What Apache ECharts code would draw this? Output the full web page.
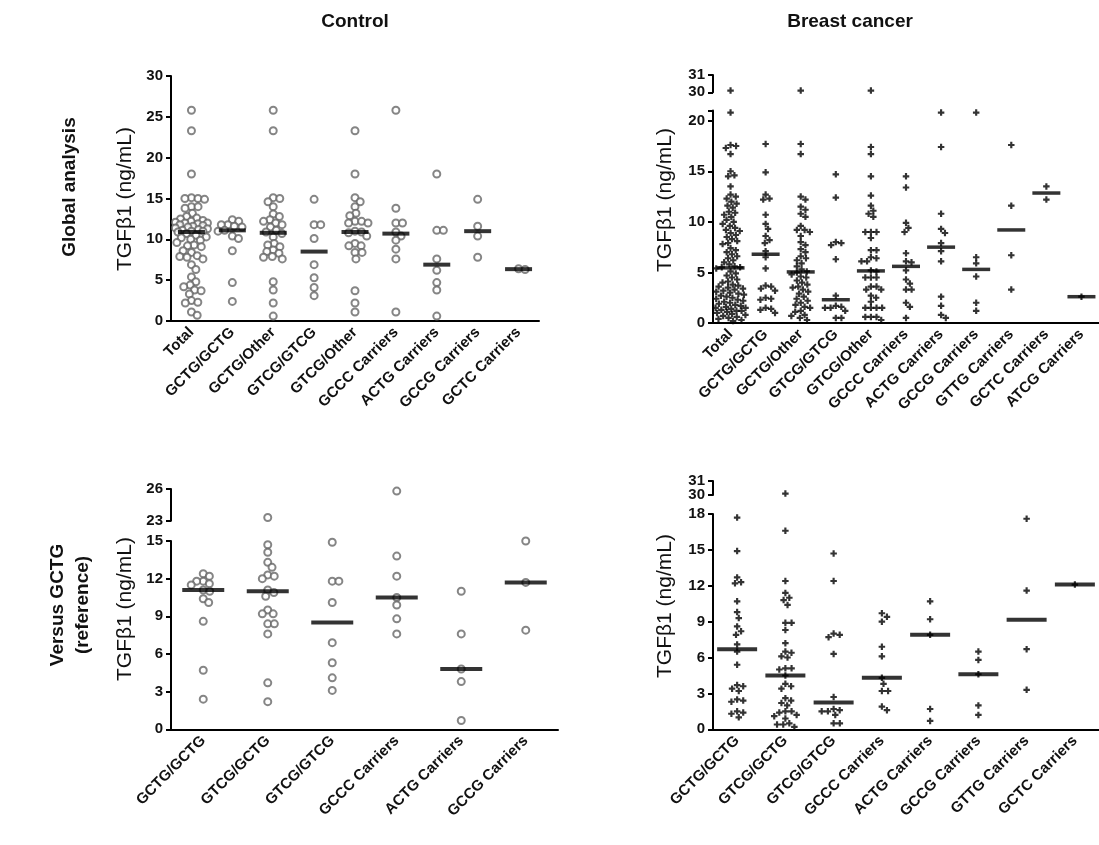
<!DOCTYPE html>
<html>
<head>
<meta charset="utf-8">
<script src="https://cdn.jsdelivr.net/npm/echarts@6/dist/echarts.min.js"></script>
<style>html,body{margin:0;background:#fff}#chart{width:1099px;height:845px}</style>
</head>
<body>
<div id="chart"></div>
<script>
// categories
const ctrlGlobalCats = ['Total', 'GCTG/GCTG', 'GCTG/Other', 'GTCG/GTCG', 'GTCG/Other', 'GCCC Carriers', 'ACTG Carriers', 'GCCG Carriers', 'GCTC Carriers']
const bcGlobalCats = ['Total', 'GCTG/GCTG', 'GCTG/Other', 'GTCG/GTCG', 'GTCG/Other', 'GCCC Carriers', 'ACTG Carriers', 'GCCG Carriers', 'GTTG Carriers', 'GCTC Carriers', 'ATCG Carriers']
const ctrlRefCats = ['GCTG/GCTG', 'GTCG/GCTG', 'GTCG/GTCG', 'GCCC Carriers', 'ACTG Carriers', 'GCCG Carriers']
const bcRefCats = ['GCTG/GCTG', 'GTCG/GCTG', 'GTCG/GTCG', 'GCCC Carriers', 'ACTG Carriers', 'GCCG Carriers', 'GTTG Carriers', 'GCTC Carriers']

// control, TGFb1 ng/mL
const ctrlTotal = [25.8, 23.3, 18.0, 15.1, 15.0, 15.0, 14.9, 14.0, 14.0, 13.8, 13.2, 12.8, 12.6, 12.5, 12.3, 12.2, 12.1, 12.0, 12.0, 11.9, 11.8, 11.7, 11.6, 11.5, 11.4, 11.3, 11.2, 11.1, 11.0, 11.0, 10.9, 10.7, 10.5, 10.3, 10.2, 10.0, 9.9, 9.6, 9.3, 9.2, 9.1, 8.6, 8.4, 8.0, 7.9, 7.8, 7.6, 6.9, 6.3, 5.4, 4.8, 4.4, 4.2, 3.8, 3.7, 3.3, 2.5, 2.3, 2.2, 1.1, 0.7]
const ctrlGctgGctg = [12.4, 12.2, 11.8, 11.8, 11.6, 11.5, 11.1, 11.0, 10.4, 10.1, 8.6, 4.7, 2.4]
const ctrlGctgOther = [25.8, 23.3, 15.1, 15.0, 14.6, 14.0, 13.1, 12.8, 12.4, 12.2, 12.0, 11.8, 11.5, 11.1, 10.9, 10.7, 10.3, 9.5, 9.3, 9.1, 8.7, 8.5, 8.3, 7.9, 7.8, 7.6, 4.8, 3.8, 2.2, 0.6]
const ctrlGtcgGtcg = [14.9, 11.8, 11.8, 10.1, 6.9, 5.3, 4.1, 3.1]
const ctrlGtcgOther = [23.3, 18.0, 15.1, 14.6, 14.0, 13.2, 12.9, 12.2, 12.2, 12.0, 12.0, 11.0, 10.9, 10.8, 10.4, 9.5, 9.2, 9.2, 8.4, 8.4, 7.6, 3.7, 2.2, 1.1]
const ctrlGccc = [25.8, 13.8, 12.0, 12.0, 10.9, 10.4, 9.9, 8.8, 7.6, 1.1]
const ctrlActg = [18.0, 11.1, 11.1, 7.6, 6.2, 4.7, 3.8, 0.6]
const ctrlGccg = [14.9, 11.6, 10.4, 7.8]
const ctrlGctc = [6.4, 6.3]
const ctrlGlobalMedians = [10.9, 11.1, 10.8, 8.5, 10.9, 10.7, 6.9, 11.0, 6.35]

const ctrlGtcgGctg = [23.3, 15.1, 14.7, 14.1, 13.3, 12.9, 12.3, 12.2, 12.0, 11.1, 10.9, 10.6, 9.5, 9.2, 9.2, 8.4, 8.4, 7.6, 3.7, 2.2]
const ctrlRefGccc = [25.8, 13.8, 12.2, 10.5, 9.9, 8.8, 7.6]
const ctrlRefActg = [11.0, 7.6, 4.8, 3.8, 0.7]
const ctrlRefGccg = [15.0, 11.7, 7.9]
const ctrlRefMedians = [11.1, 11.0, 8.5, 10.5, 4.8, 11.7]

// breast cancer
const bcTotal = [30.1, 20.8, 17.6, 17.5, 17.3, 16.7, 15.0, 14.6, 14.5, 13.5, 12.7, 12.5, 12.3, 12.0, 11.8, 11.6, 11.4, 11.0, 10.9, 10.7, 10.5, 10.2, 10.0, 9.8, 9.6, 9.4, 9.2, 9.1, 8.9, 8.7, 8.5, 8.3, 8.1, 7.9, 7.8, 7.4, 7.2, 7.0, 6.8, 6.6, 6.4, 6.2, 6.0, 5.8, 5.6, 5.5, 5.5, 5.4, 5.1, 4.9, 4.7, 4.5, 4.3, 4.1, 4.0, 3.8, 3.7, 3.6, 3.5, 3.4, 3.3, 3.2, 3.1, 3.0, 2.9, 2.8, 2.7, 2.6, 2.5, 2.4, 2.3, 2.2, 2.1, 2.0, 1.9, 1.8, 1.7, 1.6, 1.5, 1.5, 1.4, 1.3, 1.2, 1.2, 1.1, 1.0, 0.9, 0.8, 0.7, 0.6, 0.5, 0.4, 0.3, 0.2]
const bcGctgGctg = [17.7, 14.9, 12.7, 12.3, 12.2, 10.7, 9.8, 9.3, 8.6, 8.2, 7.9, 7.1, 6.5, 5.4, 3.7, 3.6, 3.4, 3.2, 2.5, 2.4, 2.3, 1.5, 1.4, 1.3, 1.0]
const bcGctgOther = [30.1, 17.7, 16.7, 12.5, 12.2, 11.5, 11.2, 10.8, 10.5, 9.6, 9.2, 9.2, 9.0, 8.6, 8.0, 7.7, 7.3, 7.0, 6.6, 6.4, 6.2, 5.9, 5.6, 5.3, 5.1, 5.0, 4.8, 4.6, 4.5, 4.2, 4.0, 3.8, 3.6, 3.5, 3.3, 3.1, 2.9, 2.6, 2.4, 2.2, 2.0, 1.8, 1.6, 1.5, 1.2, 1.1, 0.8, 0.7, 0.5, 0.3]
const bcGtcgGtcg = [14.7, 12.4, 8.0, 7.9, 7.7, 6.3, 2.7, 1.7, 1.6, 1.5, 1.5, 1.2, 0.5, 0.5]
const bcGtcgOther = [30.1, 17.4, 16.7, 14.5, 12.6, 11.6, 11.1, 10.8, 10.5, 9.0, 9.0, 9.0, 8.4, 7.2, 7.2, 6.5, 6.4, 6.1, 6.1, 5.2, 5.1, 4.5, 4.5, 4.5, 3.6, 3.6, 3.3, 3.3, 2.7, 2.5, 2.1, 1.5, 1.5, 1.5, 1.5, 0.6, 0.6, 0.6, 0.3]
const bcGccc = [14.5, 13.4, 9.9, 9.4, 9.0, 6.9, 6.1, 6.0, 5.2, 4.3, 3.9, 3.3, 3.3, 2.0, 1.6, 0.5]
const bcActg = [20.8, 17.4, 10.8, 9.3, 8.9, 7.9, 7.1, 6.1, 2.6, 1.7, 0.8, 0.5]
const bcGccg = [20.8, 6.5, 5.9, 4.6, 2.0, 1.2]
const bcGttg = [17.6, 11.6, 6.7, 3.3]
const bcGctc = [13.5, 12.2]
const bcAtcg = [2.6]
const bcGlobalMedians = [5.45, 6.8, 5.05, 2.3, 5.15, 5.6, 7.5, 5.3, 9.2, 12.85, 2.6]

const bcGtcgGctg = [30.1, 16.6, 12.4, 11.4, 11.0, 10.8, 10.4, 8.9, 8.9, 8.3, 7.2, 6.5, 6.4, 6.1, 6.0, 5.1, 5.1, 5.0, 4.5, 3.8, 3.6, 3.4, 2.6, 2.4, 2.2, 2.0, 1.5, 1.5, 1.4, 1.2, 1.1, 0.9, 0.5, 0.4, 0.4, 0.2]
const bcRefGccc = [9.7, 9.4, 9.0, 6.9, 6.1, 4.3, 3.8, 3.2, 3.2, 1.9, 1.6]
const bcRefActg = [10.7, 9.2, 7.9, 1.7, 0.7]
const bcRefGccg = [6.5, 5.8, 4.6, 2.0, 1.2]
const bcRefGctc = [12.1]
const bcRefMedians = [6.7, 4.5, 2.25, 4.3, 7.9, 4.6, 9.15, 12.1]

const FONT = '"Liberation Sans", Arial, sans-serif'
const ctrlMark = { symbol: 'circle', symbolSize: 7, itemStyle: { color: '#fff', borderColor: '#666', borderWidth: 2 } }
const bcMark = { symbol: 'path://M2,0H4V2H6V4H4V6H2V4H0V2H2Z', symbolSize: 6.5, itemStyle: { color: '#000' } }

// panels: lower segment + optional upper segment (broken axis)
const panels = [
  {
    cats: ctrlGlobalCats, medians: ctrlGlobalMedians, mark: ctrlMark, gap: 6.6, spread: 16, bar: [27, 4],
    groups: [ctrlTotal, ctrlGctgGctg, ctrlGctgOther, ctrlGtcgGtcg, ctrlGtcgOther, ctrlGccc, ctrlActg, ctrlGccg, ctrlGctc],
    left: 171, width: 368, nameX: 125, nameY: 199,
    lower: { top: 76, height: 245, min: 0, max: 30, interval: 5 },
  },
  {
    cats: bcGlobalCats, medians: bcGlobalMedians, mark: bcMark, gap: 5.6, spread: 15, bar: [28, 3.5],
    groups: [bcTotal, bcGctgGctg, bcGctgOther, bcGtcgGtcg, bcGtcgOther, bcGccc, bcActg, bcGccg, bcGttg, bcGctc, bcAtcg],
    left: 713, width: 386, nameX: 665, nameY: 200,
    lower: { top: 110.6, height: 212.4, min: 0, max: 21, interval: 5 },
    upper: { top: 75, height: 17.3, min: 30, max: 31, interval: 1 },
  },
  {
    cats: ctrlRefCats, medians: ctrlRefMedians, mark: ctrlMark, gap: 6.6, spread: 22, bar: [42, 4],
    groups: [ctrlGctgGctg, ctrlGtcgGctg, ctrlGtcgGtcg, ctrlRefGccc, ctrlRefActg, ctrlRefGccg],
    left: 171, width: 387, nameX: 125, nameY: 609,
    lower: { top: 541, height: 188.3, min: 0, max: 15, interval: 3 },
    upper: { top: 489, height: 31.7, min: 23, max: 26, interval: 3 },
  },
  {
    cats: bcRefCats, medians: bcRefMedians, mark: bcMark, gap: 6.2, spread: 20, bar: [40, 4],
    groups: [bcGctgGctg, bcGtcgGctg, bcGtcgGtcg, bcRefGccc, bcRefActg, bcRefGccg, bcGttg, bcRefGctc],
    left: 713, width: 386, nameX: 665, nameY: 606,
    lower: { top: 514, height: 215.3, min: 0, max: 18, interval: 3 },
    upper: { top: 481, height: 14, min: 30, max: 31, interval: 1 },
  },
]

// simple beeswarm: pixel x offsets so the dots don't overlap (within a max spread)
function swarm(values, pxPerUnit, d, maxOff) {
  const order = values.map((v, i) => i).sort((a, b) => values[b] - values[a])
  const placed = []
  const out = []
  order.forEach((i) => {
    const y = values[i] * pxPerUnit
    const near = placed.filter((p) => Math.abs(p.y - y) < d)
    const cands = [0]
    near.forEach((p) => {
      const w = Math.sqrt(d * d - (p.y - y) * (p.y - y))
      cands.push(p.x + w, p.x - w)
    })
    cands.sort((a, b) => Math.abs(a) - Math.abs(b))
    let x = cands.find((c) => Math.abs(c) <= maxOff && near.every((p) => (p.x - c) ** 2 + (p.y - y) ** 2 >= d * d - 0.01))
    if (x === undefined) {
      // no free slot: take the least crowded spot
      let best = -1
      for (let c = -maxOff; c <= maxOff; c += 0.5) {
        const m = Math.min(...near.map((p) => (p.x - c) ** 2 + (p.y - y) ** 2))
        if (m > best) { best = m; x = c }
      }
    }
    placed.push({ x, y })
    out[i] = x
  })
  return out
}

const axisLineStyle = { color: '#000', width: 2 }
const labelStyle = { fontSize: 15, fontWeight: 'bold', color: '#111', fontFamily: FONT }
const grid = []
const xAxis = []
const yAxis = []
const series = []

panels.forEach((p) => {
  const segs = p.upper ? [p.lower, p.upper] : [p.lower]
  segs.forEach((seg, si) => {
    const gi = grid.length
    const isLower = si === 0
    grid.push({ left: p.left, top: seg.top, width: p.width, height: seg.height, outerBoundsMode: 'none' })
    xAxis.push({
      type: 'category',
      gridIndex: gi,
      data: p.cats,
      show: isLower,
      boundaryGap: true,
      axisLine: { lineStyle: axisLineStyle },
      axisTick: { alignWithLabel: true, length: 5, lineStyle: axisLineStyle },
      axisLabel: Object.assign({ rotate: 45, interval: 0, margin: 9 }, labelStyle),
    })
    // label values: multiples of interval only (no label on the break cap)
    const labelVals = []
    for (let v = seg.min; v <= seg.max + 1e-9; v += seg.interval) labelVals.push(+v.toFixed(6))
    const yi = yAxis.length
    yAxis.push({
      type: 'value',
      gridIndex: gi,
      position: 'left',
      min: seg.min,
      max: seg.max,
      interval: seg.interval,
      splitLine: { show: false },
      axisLine: { show: true, lineStyle: axisLineStyle },
      axisTick: { show: true, length: 5, lineStyle: axisLineStyle },
      axisLabel: Object.assign({ margin: 8, customValues: isLower ? labelVals : [seg.min] }, labelStyle),
    })
    if (!isLower) {
      // top label of the short upper segment on its own axis so it is not dropped as overlapping
      yAxis.push({
        type: 'value',
        gridIndex: gi,
        position: 'left',
        offset: 0,
        min: seg.min,
        max: seg.max,
        splitLine: { show: false },
        axisLine: { show: false },
        axisTick: { show: false },
        axisLabel: Object.assign({ margin: 8, customValues: [seg.max] }, labelStyle),
      })
    }
    const pxPerUnit = seg.height / (seg.max - seg.min)
    const data = []
    p.groups.forEach((vals, ci) => {
      const inSeg = vals.filter((v) => (isLower ? v <= seg.max : v >= seg.min))
      const offs = swarm(inSeg, pxPerUnit, p.gap, p.spread)
      inSeg.forEach((v, j) => data.push({ value: [ci, v], symbolOffset: [offs[j], 0] }))
    })
    series.push({
      type: 'scatter',
      xAxisIndex: gi,
      yAxisIndex: yi,
      data,
      symbol: p.mark.symbol,
      symbolSize: p.mark.symbolSize,
      itemStyle: p.mark.itemStyle,
      z: 2,
    })
    if (isLower) {
      // median lines
      series.push({
        type: 'scatter',
        xAxisIndex: gi,
        yAxisIndex: yi,
        data: p.medians.map((m, ci) => [ci, m]),
        symbol: 'rect',
        symbolSize: p.bar,
        itemStyle: { color: '#000' },
        z: 5,
      })
    }
  })
})

const txt = (text, x, y, size, weight, rot) => ({
  type: 'text',
  x,
  y,
  rotation: rot || 0,
  style: { text, font: weight + ' ' + size + 'px ' + FONT, fill: '#111', align: 'center', verticalAlign: 'middle' },
})

const graphicEls = [
  txt('Control', 355, 22, 19, 'bold'),
  txt('Breast cancer', 850, 22, 19, 'bold'),
  txt('Global analysis', 70, 187, 19, 'bold', Math.PI / 2),
  txt('Versus GCTG', 58, 605, 19, 'bold', Math.PI / 2),
  txt('(reference)', 83, 605, 19, 'bold', Math.PI / 2),
]
panels.forEach((p) => graphicEls.push(txt('TGFβ1 (ng/mL)', p.nameX, p.nameY, 21, 'normal', Math.PI / 2)))

const myChart = echarts.init(document.getElementById('chart'))
myChart.setOption({
  animation: false,
  textStyle: { fontFamily: FONT },
  grid,
  xAxis,
  yAxis,
  series,
  graphic: { elements: graphicEls },
})
</script>
</body>
</html>
